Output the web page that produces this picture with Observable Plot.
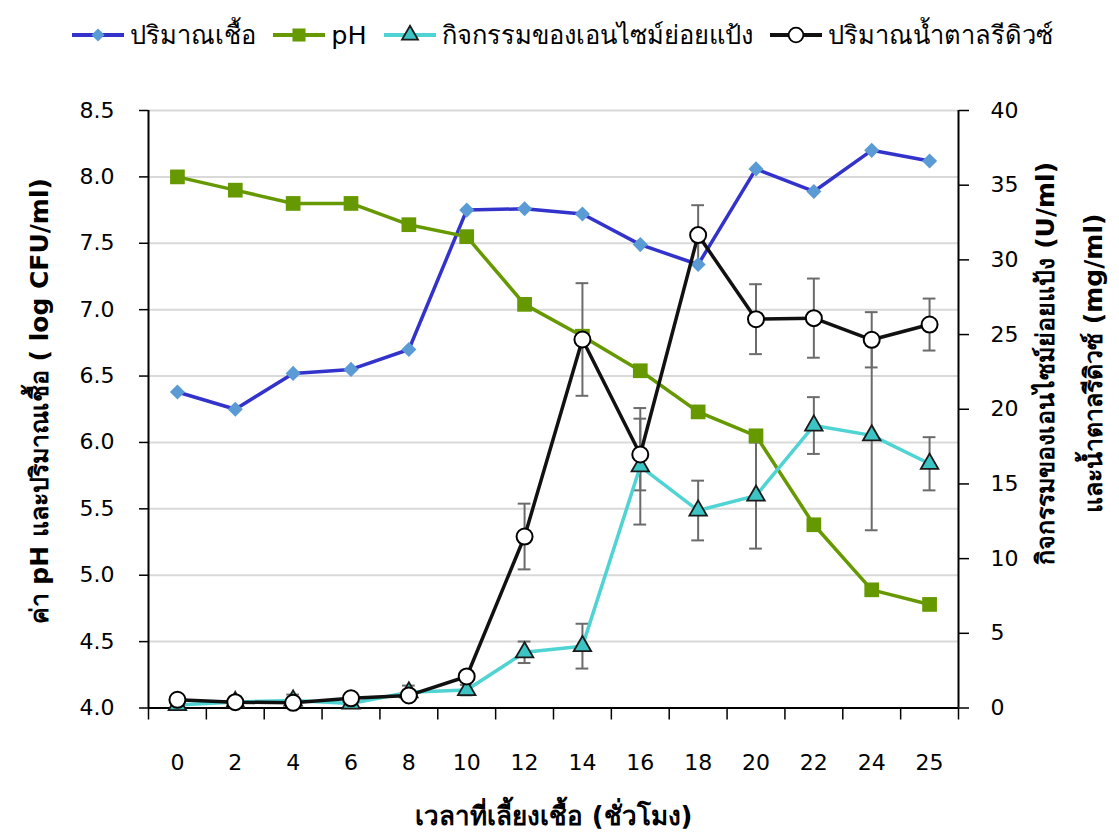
<!DOCTYPE html>
<html>
<head>
<meta charset="utf-8">
<script src="https://cdn.jsdelivr.net/npm/d3@7"></script>
<script src="https://cdn.jsdelivr.net/npm/@observablehq/plot@0.6"></script>
<style>
  html, body { margin: 0; padding: 0; background: #fff; }
  #chart { width: 1119px; font-family: "DejaVu Sans", sans-serif; }
  #legend {
    height: 70px; display: flex; align-items: center; justify-content: center;
    gap: 17px; font-size: 25.5px; color: #000; padding-left: 6px; box-sizing: border-box;
  }
  #legend .item { display: flex; align-items: center; gap: 6px; }
  #legend svg { display: block; }
</style>
</head>
<body>
<div id="chart">
  <div id="legend"></div>
</div>
<script>
// Sampling times (hours) along the x axis
const hours = ["0", "2", "4", "6", "8", "10", "12", "14", "16", "18", "20", "22", "24", "25"];

// Left axis series: viable cell count (log CFU/ml) and pH
const cellCount = [6.38, 6.25, 6.52, 6.55, 6.70, 7.75, 7.76, 7.72, 7.49, 7.34, 8.06, 7.89, 8.20, 8.12];
const pH        = [8.00, 7.90, 7.80, 7.80, 7.64, 7.55, 7.04, 6.80, 6.54, 6.23, 6.05, 5.38, 4.89, 4.78];

// Right axis series: amylase activity (U/ml) and reducing sugar (mg/ml), with SD
const amylase   = [0.2, 0.4, 0.5, 0.3, 1.05, 1.2, 3.73, 4.14, 16.18, 13.22, 14.22, 18.91, 18.25, 16.35];
const amylaseSD = [0, 0, 0.4, 0, 0.45, 0.35, 0.72, 1.5, 3.9, 2.0, 3.55, 1.9, 6.35, 1.78];
const sugar     = [0.55, 0.39, 0.35, 0.65, 0.84, 2.11, 11.48, 24.67, 16.97, 31.66, 26.03, 26.1, 24.65, 25.67];
const sugarSD   = [0, 0, 0, 0, 0, 0, 2.2, 3.77, 2.4, 2.0, 2.34, 2.65, 1.85, 1.74];

// Axis ticks
const leftTicks  = [4.0, 4.5, 5.0, 5.5, 6.0, 6.5, 7.0, 7.5, 8.0, 8.5];
const rightTicks = [0, 5, 10, 15, 20, 25, 30, 35, 40];

// Labels
const seriesNames = ["ปริมาณเชื้อ", "pH", "กิจกรรมของเอนไซม์ย่อยแป้ง", "ปริมาณน้ำตาลรีดิวซ์"];
const xTitle = "เวลาที่เลี้ยงเชื้อ (ชั่วโมง)";
const yLeftTitle = "ค่า pH และปริมาณเชื้อ ( log CFU/ml)";
const yRightTitle1 = "กิจกรรมของเอนไซม์ย่อยแป้ง (U/ml)";
const yRightTitle2 = "และน้ำตาลรีดิวซ์ (mg/ml)";

// Colours
const cBlue = "#3333cc", cBlueFill = "#5b9bd5";
const cGreen = "#669900";
const cCyan = "#4fd3d3", cCyanFill = "#3cc4c4";
const cBlack = "#111111";
const cErr = "#6b6b6b";

// The right axis (0–40) shares the left scale (4.0–8.5) through a linear map
const L0 = 4, L1 = 8.5, R0 = 0, R1 = 40;
const toLeft = (v) => L0 + (v - R0) * (L1 - L0) / (R1 - R0);
const toRight = (v) => R0 + (v - L0) * (R1 - R0) / (L1 - L0);

const rows = hours.map((h, i) => ({
  i, h,
  cell: cellCount[i], ph: pH[i],
  amy: toLeft(amylase[i]), amyLo: toLeft(amylase[i] - amylaseSD[i]), amyHi: toLeft(amylase[i] + amylaseSD[i]), amySD: amylaseSD[i],
  sug: toLeft(sugar[i]), sugLo: toLeft(sugar[i] - sugarSD[i]), sugHi: toLeft(sugar[i] + sugarSD[i]), sugSD: sugarSD[i]
}));
const amyErr = rows.filter(d => d.amySD > 0);
const sugErr = rows.filter(d => d.sugSD > 0);
const capHalf = 0.11; // half-width of error-bar caps, in category units

function errorMarks(data, lo, hi) {
  const caps = data.flatMap(d => [{i: d.i, y: d[lo]}, {i: d.i, y: d[hi]}]);
  return [
    Plot.ruleX(data, {x: "i", y1: lo, y2: hi, stroke: cErr, strokeWidth: 2}),
    Plot.ruleY(caps, {y: "y", x1: d => d.i - capHalf, x2: d => d.i + capHalf, stroke: cErr, strokeWidth: 2})
  ];
}

const boundaries = d3.range(-0.5, hours.length, 1);
const titleStyle = {fontSize: 25, fontWeight: "bold", fill: "#000", rotate: -90, textAnchor: "middle"};

const plot = Plot.plot({
  width: 1119,
  height: 762,
  marginTop: 40,
  marginBottom: 124.5,
  marginLeft: 148,
  marginRight: 161,
  style: {fontFamily: "DejaVu Sans, sans-serif", fontSize: "22px", color: "#000", background: "#fff"},
  x: {type: "linear", domain: [-0.5, hours.length - 0.5]},
  y: {domain: [L0, L1]},
  marks: [
    // horizontal gridlines
    Plot.ruleY(leftTicks.filter(t => t > L0), {stroke: "#d9d9d9", strokeWidth: 2}),
    // left axis
    Plot.axisY({ticks: leftTicks, tickFormat: d3.format(".1f"), tickSize: 9, tickPadding: 25, strokeWidth: 1.5, label: null, fontSize: 22}),
    // right axis
    Plot.axisY({anchor: "right", ticks: rightTicks.map(toLeft), tickFormat: d => d3.format("d")(Math.round(toRight(d))), tickSize: 10, tickPadding: 22, strokeWidth: 1.5, label: null, fontSize: 22}),
    // x axis: tick marks at category boundaries, labels at centres
    Plot.axisX({ticks: boundaries, tickFormat: () => "", tickSize: 12, strokeWidth: 1.5, label: null}),
    Plot.axisX({ticks: d3.range(hours.length), tickFormat: i => hours[i], tickSize: 0, tickPadding: 46, label: null, fontSize: 22}),
    // axis lines
    Plot.ruleX([-0.5, hours.length - 0.5], {stroke: "#000", strokeWidth: 2}),
    Plot.ruleY([L0], {stroke: "#000", strokeWidth: 2}),

    // error bars
    ...errorMarks(amyErr, "amyLo", "amyHi"),
    ...errorMarks(sugErr, "sugLo", "sugHi"),

    // viable cell count
    Plot.line(rows, {x: "i", y: "cell", stroke: cBlue, strokeWidth: 3.5}),
    Plot.dot(rows, {x: "i", y: "cell", symbol: "diamond2", r: 6.8, fill: cBlueFill, stroke: "none"}),
    // pH
    Plot.line(rows, {x: "i", y: "ph", stroke: cGreen, strokeWidth: 3.5}),
    Plot.dot(rows, {x: "i", y: "ph", symbol: "square", r: 8.3, fill: cGreen, stroke: "none"}),
    // amylase activity
    Plot.line(rows, {x: "i", y: "amy", stroke: cCyan, strokeWidth: 3.5}),
    Plot.dot(rows, {x: "i", y: "amy", symbol: "triangle", r: 6.5, fill: cCyanFill, stroke: "#1a1a1a", strokeWidth: 1.8}),
    // reducing sugar
    Plot.line(rows, {x: "i", y: "sug", stroke: cBlack, strokeWidth: 3.5}),
    Plot.dot(rows, {x: "i", y: "sug", symbol: "circle", r: 8, fill: "#fff", stroke: "#000", strokeWidth: 2}),

    // axis titles
    Plot.text([xTitle], {frameAnchor: "bottom", dy: 117, fontSize: 26, fontWeight: "bold", fill: "#000"}),
    Plot.text([yLeftTitle], {frameAnchor: "left", dx: -109, dy: -8, ariaLabel: "title-left", ...titleStyle}),
    Plot.text([yRightTitle1], {frameAnchor: "right", dx: 87, dy: -46, ariaLabel: "title-right-1", ...titleStyle}),
    Plot.text([yRightTitle2], {frameAnchor: "right", dx: 135, dy: -46, ariaLabel: "title-right-2", ...titleStyle})
  ]
});
document.getElementById("chart").appendChild(plot);

// Condense the long rotated titles so each fits its span along the axis
const titleLengths = {"title-left": 462, "title-right-1": 436, "title-right-2": 316};
for (const [label, len] of Object.entries(titleLengths)) {
  d3.select(plot).selectAll(`g[aria-label="${label}"] text`).each(function () {
    const natural = this.getComputedTextLength() || this.getBBox().width;
    if (natural > 0) {
      const t = this.getAttribute("transform") || "";
      this.setAttribute("transform", `${t} scale(${(len / natural).toFixed(4)},1)`);
    }
  });
}

// Legend above the chart
const legendSpecs = [
  {name: seriesNames[0], stroke: cBlue, symbol: d3.symbolDiamond2, size: 110, fill: cBlueFill, mstroke: "none"},
  {name: seriesNames[1], stroke: cGreen, symbol: d3.symbolSquare, size: 170, fill: cGreen, mstroke: "none"},
  {name: seriesNames[2], stroke: cCyan, symbol: d3.symbolTriangle, size: 110, fill: cCyanFill, mstroke: "#1a1a1a"},
  {name: seriesNames[3], stroke: cBlack, symbol: d3.symbolCircle, size: 170, fill: "#fff", mstroke: "#000"}
];
const legend = d3.select("#legend");
for (const s of legendSpecs) {
  const item = legend.append("span").attr("class", "item");
  const svg = item.append("svg").attr("width", 52).attr("height", 24);
  svg.append("line").attr("x1", 0).attr("x2", 52).attr("y1", 12).attr("y2", 12)
    .attr("stroke", s.stroke).attr("stroke-width", 4);
  svg.append("path").attr("d", d3.symbol(s.symbol, s.size)()).attr("transform", "translate(26,12)")
    .attr("fill", s.fill).attr("stroke", s.mstroke).attr("stroke-width", 1.8);
  item.append("span").text(s.name);
}
</script>
</body>
</html>
